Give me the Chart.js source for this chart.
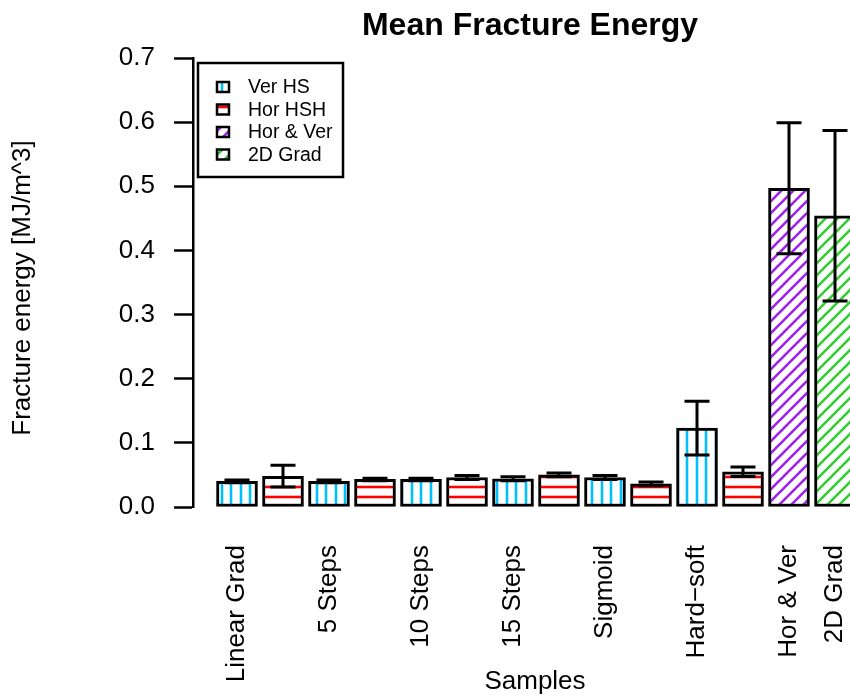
<!DOCTYPE html>
<html lang="en">
<head>
<meta charset="UTF-8">
<title>Mean Fracture Energy</title>
<script src="https://cdn.jsdelivr.net/npm/chart.js"></script>
<style>
  body { margin: 0; background: #fff; }
  #wrap { width: 850px; height: 697px; }
</style>
</head>
<body>
<div id="wrap"><canvas id="energyChart" width="850" height="697"></canvas></div>
<script>
// one slot per bar; only every other pair is named
const slotLabels = ['Linear Grad', '', '5 Steps', '', '10 Steps', '', '15 Steps', '', 'Sigmoid', '', 'Hard\u2212soft', '', 'Hor & Ver', '2D Grad'];

// Ver HS bars (odd slots)
const verHSSlots = [1, 3, 5, 7, 9, 11];
const verHSMean = [0.040, 0.040, 0.043, 0.044, 0.046, 0.123];
const verHSErr = [0.002, 0.002, 0.002, 0.003, 0.003, 0.042];

// Hor HSH bars (even slots)
const horHSHSlots = [2, 4, 6, 8, 10, 12];
const horHSHMean = [0.048, 0.043, 0.046, 0.050, 0.036, 0.055];
const horHSHErr = [0.017, 0.002, 0.003, 0.003, 0.003, 0.0075];

const horVerSlots = [13];
const horVerMean = [0.497];
const horVerErr = [0.102];

const grad2DSlots = [14];
const grad2DMean = [0.454];
const grad2DErr = [0.133];

const yTicks = [0, 0.1, 0.2, 0.3, 0.4, 0.5, 0.6, 0.7];

const FONT = "'Liberation Sans', Arial, Helvetica, sans-serif";

// hatch fills drawn on a small tile and repeated
function hatch(color, kind) {
  const c = document.createElement('canvas');
  const g = c.getContext('2d');
  if (kind === 'v') { c.width = 19; c.height = 4; }
  else if (kind === 'h') { c.width = 4; c.height = 10; }
  else { c.width = 12; c.height = 12; }
  g.fillStyle = '#fff';
  g.fillRect(0, 0, c.width, c.height);
  g.strokeStyle = color;
  g.lineWidth = 2.6;
  g.beginPath();
  if (kind === 'v') {
    g.moveTo(3, 0); g.lineTo(3, 4);
    g.moveTo(13, 0); g.lineTo(13, 4);
  } else if (kind === 'h') {
    g.moveTo(0, 7); g.lineTo(4, 7);
  } else {
    g.moveTo(-1, 13); g.lineTo(13, -1);
    g.moveTo(-1, 1); g.lineTo(1, -1);
    g.moveTo(11, 13); g.lineTo(13, 11);
  }
  g.stroke();
  return g.createPattern(c, 'repeat');
}

const fills = {
  ver: hatch('#00BFFF', 'v'),
  hor: hatch('#FF0000', 'h'),
  purple: hatch('#A020F0', 'd'),
  green: hatch('#32CD32', 'd')
};

function series(label, slots, mean, err, fill) {
  return {
    label: label,
    data: slots.map((s, i) => ({ x: s, y: mean[i] })),
    errors: err,
    backgroundColor: fill,
    borderColor: '#000',
    borderWidth: 3,
    borderSkipped: false,
    barThickness: 41
  };
}

const whiteBg = {
  id: 'whiteBg',
  beforeDraw(chart) {
    const ctx = chart.ctx;
    ctx.save();
    ctx.fillStyle = '#fff';
    ctx.fillRect(0, 0, chart.width, chart.height);
    ctx.restore();
  }
};

// mean +/- error whiskers with flat caps
const errorBars = {
  id: 'errorBars',
  afterDatasetsDraw(chart) {
    const { ctx, scales: { x, y } } = chart;
    ctx.save();
    ctx.strokeStyle = '#000';
    ctx.lineWidth = 3;
    chart.data.datasets.forEach(ds => {
      ds.data.forEach((pt, i) => {
        const e = ds.errors[i];
        const px = x.getPixelForValue(pt.x);
        const hi = y.getPixelForValue(pt.y + e);
        const lo = y.getPixelForValue(pt.y - e);
        ctx.beginPath();
        ctx.moveTo(px, hi); ctx.lineTo(px, lo);
        ctx.moveTo(px - 12.5, hi); ctx.lineTo(px + 12.5, hi);
        ctx.moveTo(px - 12.5, lo); ctx.lineTo(px + 12.5, lo);
        ctx.stroke();
      });
    });
    ctx.restore();
  }
};

// title, axis titles and the boxed legend in the top-left corner
const annotations = {
  id: 'annotations',
  afterDraw(chart) {
    const { ctx, chartArea } = chart;
    ctx.save();
    ctx.fillStyle = '#000';
    ctx.font = 'bold 32px ' + FONT;
    ctx.textAlign = 'center';
    ctx.textBaseline = 'alphabetic';
    ctx.fillText('Mean Fracture Energy', 530, 35);

    ctx.font = '26px ' + FONT;
    ctx.fillText('Samples', 535, 689);
    ctx.save();
    ctx.translate(30, 288);
    ctx.rotate(-Math.PI / 2);
    ctx.fillText('Fracture energy [MJ/m^3]', 0, 0);
    ctx.restore();

    const bx = chartArea.left + 5, by = chartArea.top + 5;
    ctx.strokeStyle = '#000';
    ctx.lineWidth = 2.5;
    ctx.strokeRect(bx, by, 145, 114);
    ctx.font = '19.5px ' + FONT;
    ctx.textAlign = 'left';
    ctx.textBaseline = 'middle';
    chart.data.datasets.forEach((ds, i) => {
      const cy = by + 24 + i * 22.5;
      ctx.fillStyle = ds.backgroundColor;
      ctx.fillRect(bx + 19, cy - 5, 12, 10);
      ctx.strokeRect(bx + 19, cy - 5, 12, 10);
      ctx.fillStyle = '#000';
      ctx.fillText(ds.label, bx + 50, cy + 1);
    });
    ctx.restore();
  }
};

new Chart(document.getElementById('energyChart'), {
  type: 'bar',
  data: {
    datasets: [
      series('Ver HS', verHSSlots, verHSMean, verHSErr, fills.ver),
      series('Hor HSH', horHSHSlots, horHSHMean, horHSHErr, fills.hor),
      series('Hor & Ver', horVerSlots, horVerMean, horVerErr, fills.purple),
      series('2D Grad', grad2DSlots, grad2DMean, grad2DErr, fills.green)
    ]
  },
  options: {
    responsive: false,
    animation: false,
    layout: { padding: { top: 58, right: 0, bottom: 0, left: 0 } },
    datasets: { bar: { grouped: false } },
    plugins: {
      legend: { display: false },
      title: { display: false },
      tooltip: { enabled: false }
    },
    scales: {
      x: {
        type: 'linear',
        offset: false,
        min: 0.0435,
        max: 14.326,
        afterBuildTicks(s) { s.ticks = slotLabels.map((_, i) => ({ value: i + 1 })); },
        afterFit(s) { s.height = 190; s.paddingLeft = 0; s.paddingRight = 0; },
        grid: { display: false, drawTicks: false },
        border: { display: false },
        ticks: {
          autoSkip: false,
          minRotation: 90,
          maxRotation: 90,
          padding: 38,
          color: '#000',
          font: { family: FONT, size: 26 },
          callback: v => slotLabels[Math.round(v) - 1] || ''
        }
      },
      y: {
        min: 0,
        max: 0.7,
        afterBuildTicks(s) { s.ticks = yTicks.map(v => ({ value: v })); },
        afterFit(s) { s.width = 193; },
        grid: { drawOnChartArea: false, drawTicks: true, tickLength: 19, tickWidth: 2.5, tickColor: '#000' },
        border: { display: true, color: '#000', width: 2.5 },
        ticks: {
          padding: 19,
          color: '#000',
          font: { family: FONT, size: 26 },
          callback: v => v.toFixed(1)
        }
      }
    }
  },
  plugins: [whiteBg, errorBars, annotations]
});
</script>
</body>
</html>
